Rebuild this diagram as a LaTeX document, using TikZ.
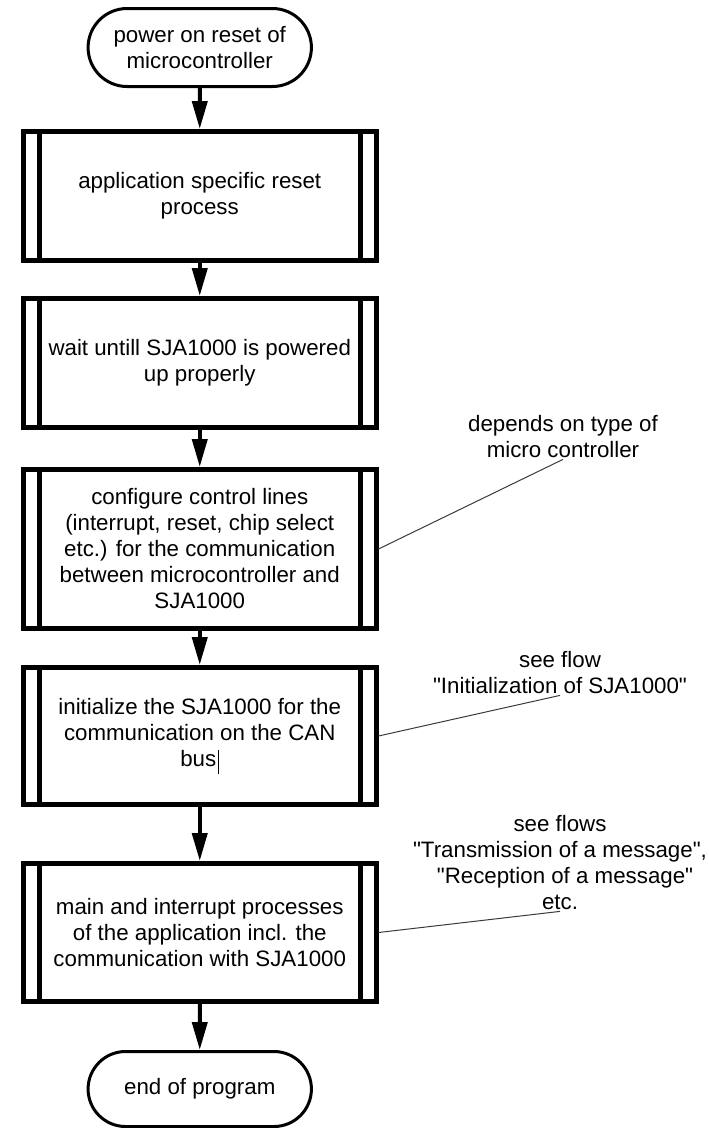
\documentclass[tikz,border=0pt]{standalone}
\usepackage{fontspec}
\setmainfont{Liberation Sans}[Ligatures=TeXOff]
\usepackage{xcolor}
\definecolor{noteGray}{HTML}{3A3A3A}
\usepackage{tikz}
\usetikzlibrary{arrows.meta, positioning, shapes.misc}
\newcommand{\chartfont}{\fontsize{22.3pt}{26pt}\selectfont}

\begin{document}
\begin{tikzpicture}[
		terminal/.style={
			draw,
			rounded rectangle,
			line width=3pt,
			minimum width=230pt,
			minimum height=78pt,
			align=center,
			font=\chartfont
		},
		proc/.style={
			draw,
			line width=5pt,
			minimum width=352.5pt,
			align=center,
			font=\chartfont
		},
		note/.style={
			align=center,
			inner sep=1pt,
			font=\chartfont
		},
		arrow/.style={-{Triangle[length=28pt, width=15pt]}, line width=4pt},
		leader/.style={noteGray, line width=1pt}
		]
		
		\useasboundingbox (0,0) rectangle (709pt,-1128pt);
		
		\node[terminal] (start) at (199.75pt,-47.5pt) {power on reset of\\microcontroller};
		\node[proc, minimum height=129pt, below=41pt of start] (reset) {application specific reset\\process};
		\node[proc, minimum height=129pt, below=33pt of reset] (wait) {wait untill SJA1000 is powered\\up properly};
		\node[proc, minimum height=159pt, below=37pt of wait] (config) {configure control lines\\(interrupt, reset, chip select\\etc.) for the communication\\between microcontroller and\\SJA1000};
		\node[proc, minimum height=137pt, below=34pt of config] (init) {initialize the SJA1000 for the\\communication on the CAN\\bus\hspace{2pt}\rule[-7pt]{1pt}{24pt}};
		\node[proc, minimum height=138pt, below=54pt of init] (main) {main and interrupt processes\\of the application incl. the\\communication with SJA1000};
		\node[terminal, minimum height=75pt, below=46pt of main] (stop) {end of program};
		
		% double side bars of the predefined processes
		\foreach \n in {reset, wait, config, init, main} {
			\draw[line width=5pt] ([xshift=18pt]\n.north west) -- ([xshift=18pt]\n.south west);
			\draw[line width=5pt] ([xshift=-18pt]\n.north east) -- ([xshift=-18pt]\n.south east);
		}
		
		\draw[arrow] (start) -- (reset);
		\draw[arrow] (reset) -- (wait);
		\draw[arrow] (wait) -- (config);
		\draw[arrow] (config) -- (init);
		\draw[arrow] (init) -- (main);
		\draw[arrow] (main) -- (stop);
		
		% side remarks
		\node[note] (mcnote) at (563pt,-437pt) {depends on type of\\micro controller};
		\node[note] (initnote) at (560pt,-673pt) {see flow\\"Initialization of SJA1000"};
		\node[note] (flownote) at (560pt,-863pt) {see flows\\"Transmission of a message",\\\hspace*{10pt}"Reception of a message"\\etc.};
		
		\draw[leader] (config.east) -- (mcnote.south);
		\draw[leader] (init.east) -- (initnote.south);
		\draw[leader] (main.east) -- (flownote.south);
		
	\end{tikzpicture}
\end{document}
